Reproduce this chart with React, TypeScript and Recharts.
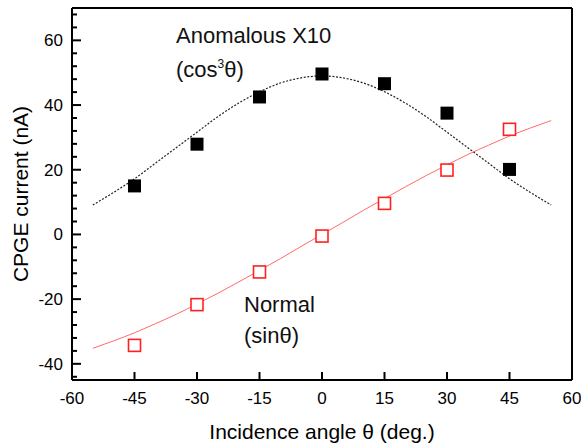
import React from "react";
import { ComposedChart, XAxis, YAxis, Line, Scatter, ReferenceLine } from "recharts";

// Measured data points
const angles = [-45, -30, -15, 0, 15, 30, 45];
const anomalousValues = [15.0, 27.9, 42.5, 49.6, 46.6, 37.5, 20.1];
const normalValues = [-34.3, -21.7, -11.6, -0.5, 9.6, 19.9, 32.5];

// Fit curves
const fitAngles = [-55, -50, -45, -40, -35, -30, -25, -20, -15, -10, -5, 0, 5, 10, 15, 20, 25, 30, 35, 40, 45, 50, 55];
const anomalousFit = [9.1, 13.0, 17.2, 22.0, 26.8, 31.6, 36.4, 40.6, 44.1, 46.8, 48.4, 49.0, 48.4, 46.8, 44.1, 40.6, 36.4, 31.6, 26.8, 22.0, 17.2, 13.0, 9.1];
const normalFit = [-35.2, -32.9, -30.4, -27.6, -24.7, -21.5, -18.2, -14.7, -11.1, -7.5, -3.7, 0, 3.7, 7.5, 11.1, 14.7, 18.2, 21.5, 24.7, 27.6, 30.4, 32.9, 35.2];

// Axes
const xTicks = [-60, -45, -30, -15, 0, 15, 30, 45, 60];
const yMajorTicks = [-40, -20, 0, 20, 40, 60];
const yTicks = [-44, -40, -36, -32, -28, -24, -20, -16, -12, -8, -4, 0, 4, 8, 12, 16, 20, 24, 28, 32, 36, 40, 44, 48, 52, 56, 60, 64, 68];
const xDomain = [-60, 60];
const yDomain = [-45, 70];

const anomalousData = angles.map((x, i) => ({ x, y: anomalousValues[i] }));
const normalData = angles.map((x, i) => ({ x, y: normalValues[i] }));
const anomalousFitData = fitAngles.map((x, i) => ({ x, y: anomalousFit[i] }));
const normalFitData = fitAngles.map((x, i) => ({ x, y: normalFit[i] }));

const W = 581;
const H = 447;
const MARGIN = { top: 8, right: 9, bottom: 0, left: 0 };
const Y_AXIS_W = 72;
const X_AXIS_H = 67;
const PLOT_LEFT = MARGIN.left + Y_AXIS_W;
const PLOT_BOTTOM = H - MARGIN.bottom - X_AXIS_H;
const FONT = "'Liberation Sans', Arial, Helvetica, sans-serif";

const YTick = (props: any) => {
  const { y, payload } = props;
  const major = yMajorTicks.includes(payload.value);
  return (
    <g>
      <line x1={PLOT_LEFT} x2={PLOT_LEFT + (major ? 9 : 5)} y1={y} y2={y} stroke="#000" strokeWidth={2} />
      {major && (
        <text x={PLOT_LEFT - 9} y={y} dy={6} textAnchor="end" fontSize={17} fontFamily={FONT} fill="#000">
          {payload.value}
        </text>
      )}
    </g>
  );
};

const XTick = (props: any) => {
  const { x, payload } = props;
  return (
    <g>
      <line x1={x} x2={x} y1={PLOT_BOTTOM} y2={PLOT_BOTTOM - 8} stroke="#000" strokeWidth={2} />
      <text x={x} y={PLOT_BOTTOM + 24} textAnchor="middle" fontSize={17} fontFamily={FONT} fill="#000">
        {payload.value}
      </text>
    </g>
  );
};

const FilledSquare = (props: any) => {
  const { cx, cy } = props;
  if (cx == null || cy == null) return null;
  return <rect x={cx - 6.5} y={cy - 6.5} width={13} height={13} fill="#000" />;
};

const OpenSquare = (props: any) => {
  const { cx, cy } = props;
  if (cx == null || cy == null) return null;
  return <rect x={cx - 6} y={cy - 6} width={12} height={12} fill="#fff" stroke="#ff2020" strokeWidth={1.6} />;
};

export default function App() {
  return (
    <div style={{ position: "absolute", left: 0, top: 0, width: W, height: H, background: "#fff" }}>
      <ComposedChart width={W} height={H} margin={MARGIN}>
        <XAxis
          type="number"
          dataKey="x"
          domain={xDomain}
          ticks={xTicks}
          interval={0}
          height={X_AXIS_H}
          axisLine={{ stroke: "#000", strokeWidth: 2 }}
          tickLine={false}
          tick={XTick}
          label={{ value: "Incidence angle θ (deg.)", position: "insideBottom", offset: 8, fontSize: 21, fontFamily: FONT, fill: "#000" }}
        />
        <YAxis
          type="number"
          dataKey="y"
          domain={yDomain}
          ticks={yTicks}
          interval={0}
          width={Y_AXIS_W}
          allowDataOverflow
          axisLine={{ stroke: "#000", strokeWidth: 2 }}
          tickLine={false}
          tick={YTick}
          label={{ value: "CPGE current (nA)", angle: -90, position: "insideLeft", offset: 21, style: { textAnchor: "middle" }, fontSize: 21, fontFamily: FONT, fill: "#000" }}
        />
        <ReferenceLine y={70} stroke="#000" strokeWidth={2} />
        <ReferenceLine x={60} stroke="#000" strokeWidth={2} />
        <Line
          data={anomalousFitData}
          dataKey="y"
          type="monotone"
          stroke="#222"
          strokeWidth={1.2}
          strokeDasharray="2 1.6"
          dot={false}
          isAnimationActive={false}
        />
        <Line
          data={normalFitData}
          dataKey="y"
          type="monotone"
          stroke="#ff6b6b"
          strokeWidth={1}
          dot={false}
          isAnimationActive={false}
        />
        <Scatter data={anomalousData} dataKey="y" shape={FilledSquare} isAnimationActive={false} />
        <Scatter data={normalData} dataKey="y" shape={OpenSquare} isAnimationActive={false} />
      </ComposedChart>
      <svg width={W} height={H} style={{ position: "absolute", left: 0, top: 0, pointerEvents: "none" }}>
        <g fontFamily={FONT} fill="#111" fontSize={22}>
          <text x={176} y={43}>Anomalous X10</text>
          <text x={176} y={77}>
            (cos<tspan fontSize={12} dy={-9}>3</tspan><tspan dy={9}>θ)</tspan>
          </text>
          <text x={244} y={312}>Normal</text>
          <text x={244} y={343}>(sinθ)</text>
        </g>
      </svg>
    </div>
  );
}
